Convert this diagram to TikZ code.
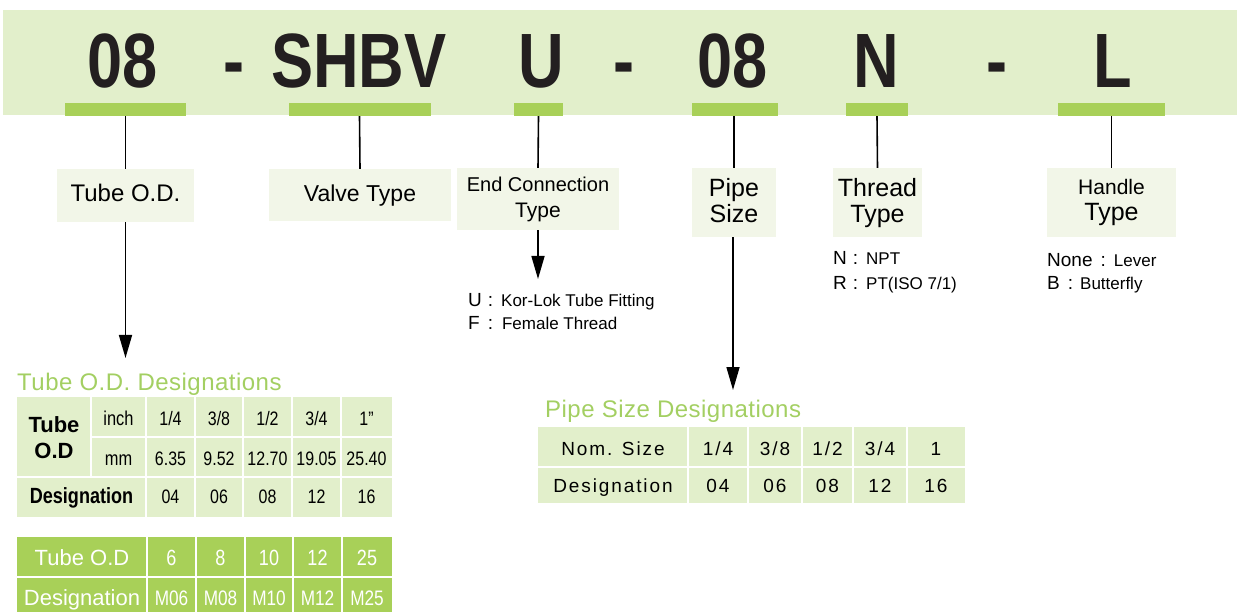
\documentclass[tikz,border=0pt]{standalone}
\usepackage{fontspec}
\setmainfont{Liberation Sans}
\newfontfamily\codefont[FakeStretch=0.82]{Liberation Sans}
\newfontfamily\tabfont[FakeStretch=0.82]{Liberation Sans}
\newfontfamily\pipefont[LetterSpace=10]{Liberation Sans}
\newfontfamily\titlefont[LetterSpace=2]{Liberation Sans}
\usetikzlibrary{arrows.meta}
\definecolor{band}{HTML}{E2EFCB}
\definecolor{barc}{HTML}{A8D058}
\definecolor{boxc}{HTML}{F2F6E8}
\definecolor{codec}{HTML}{231F20}
\definecolor{titlec}{HTML}{A3CF62}
\newcommand\myfs[1]{\fontsize{#1}{#1}\selectfont}
\tikzset{
  code/.style={anchor=base, inner sep=0pt, text=codec, font={\codefont\bfseries\myfs{77}}},
  barbox/.style={fill=barc, inner sep=0pt, minimum height=13pt},
  labbox/.style={fill=boxc, inner sep=0pt},
  lab/.style={anchor=base, inner sep=0pt},
  conn/.style={line width=1.6pt, black},
  arr/.style={conn, -{Triangle[length=23pt,width=13pt]}},
  grid/.style={white, line width=1.5pt},
  t1/.style={anchor=base, inner sep=0pt, font={\tabfont\myfs{19.5}}},
  t2/.style={anchor=base, inner sep=0pt, text=white},
  t3/.style={anchor=base, inner sep=0pt, font={\pipefont\myfs{19}}},
}
\begin{document}
\begin{tikzpicture}[x=1pt,y=-1pt]
\useasboundingbox (0,0) rectangle (1237,612);
% top band
\fill[band] (3,10) rectangle (1237,115);
\node[code] (c1) at (123,88) {08};
\node[code] (c2) at (234,88) {-};
\node[code] (c3) at (359,88) {SHBV};
\node[code] (c4) at (541,88) {U};
\node[code] (c5) at (624,88) {-};
\node[code] (c6) at (733,88) {08};
\node[code] (c7) at (876,88) {N};
\node[code] (c8) at (997,88) {-};
\node[code] (c9) at (1113,88) {L};
% bars
\node[barbox, minimum width=121pt] (b1) at (125.5,109.5) {};
\node[barbox, minimum width=142pt] (b2) at (359.5,109.5) {};
\node[barbox, minimum width=49pt]  (b3) at (538.5,109.5) {};
\node[barbox, minimum width=86pt]  (b4) at (735,109.5) {};
\node[barbox, minimum width=62pt]  (b5) at (877,109.5) {};
\node[barbox, minimum width=107pt] (b6) at (1111.5,109.5) {};
% label boxes
\node[labbox, minimum width=137pt, minimum height=53pt] (L1) at (125.5,195.5) {};
\node[labbox, minimum width=182pt, minimum height=52pt] (L2) at (360,195) {};
\node[labbox, minimum width=162pt, minimum height=62pt] (L3) at (538,199) {};
\node[labbox, minimum width=84pt, minimum height=69pt]  (L4) at (734,202.5) {};
\node[labbox, minimum width=89pt, minimum height=69pt]  (L5) at (877.5,202.5) {};
\node[labbox, minimum width=129pt, minimum height=69pt] (L6) at (1111.5,202.5) {};
% label texts
\node[lab, font=\myfs{24}] (x1) at (125.5,202) {Tube O.D.};
\node[lab, font=\myfs{23}] (x2) at (360,202) {Valve Type};
\node[lab, font=\myfs{20}] (x3a) at (538,192) {End Connection};
\node[lab, font=\myfs{21}] (x3b) at (538,218) {Type};
\node[lab, font=\myfs{25}] (x4a) at (734,197) {Pipe};
\node[lab, font=\myfs{25}] (x4b) at (734,223) {Size};
\node[lab, font=\myfs{25}] (x5a) at (877.5,197) {Thread};
\node[lab, font=\myfs{25}] (x5b) at (877.5,223) {Type};
\node[lab, font=\myfs{21}] (x6a) at (1111.5,195) {Handle};
\node[lab, font=\myfs{25}] (x6b) at (1111.5,221) {Type};
% connectors
\draw[conn] (b1.south) -- (L1.north);
\draw[conn] (b2.south) -- (L2.north);
\draw[conn] (b3.south) -- (L3.north);
\draw[conn] (b4.south -| L4.north) -- (L4.north);
\draw[conn] (b5.south) -- (L5.north);
\draw[conn] (b6.south) -- (L6.north);
\coordinate (a1) at (125.5,358);
\coordinate (a3) at (538,279);
\coordinate (a4) at (733,390);
\draw[arr] (L1.south) -- (a1);
\draw[arr] (L3.south) -- (a3);
\draw[arr] (L4.south -| a4) -- (a4);
% option lists
\node[lab, anchor=base west] (o1) at (468,307) {\myfs{19}U\hspace{6pt}:\hspace{8pt}\myfs{17}Kor-Lok Tube Fitting};
\node[lab, anchor=base west] (o2) at (468,330) {\myfs{19}F\hspace{8pt}:\hspace{9pt}\myfs{17}Female Thread};
\node[lab, anchor=base west] (o3) at (833,265) {\myfs{19}N\hspace{6pt}:\hspace{8pt}\myfs{17}NPT};
\node[lab, anchor=base west] (o4) at (833,290) {\myfs{19}R\hspace{6pt}:\hspace{8pt}\myfs{17}PT(ISO 7/1)};
\node[lab, anchor=base west] (o5) at (1047,267) {\myfs{19}None\hspace{8pt}:\hspace{8pt}\myfs{17}Lever};
\node[lab, anchor=base west] (o6) at (1047,290) {\myfs{19}B\hspace{8pt}:\hspace{7pt}\myfs{17}Butterfly};
% titles
\node[lab, anchor=base west, text=titlec, font={\titlefont\myfs{24}}] (tt1) at (17,390) {Tube O.D. Designations};
\node[lab, anchor=base west, text=titlec, font={\titlefont\myfs{24}}] (tt2) at (545,417) {Pipe Size Designations};
% table 1
\fill[band] (17,397) rectangle (392,517);
\draw[grid] (91,397) -- (91,477);
\draw[grid] (91,437) -- (392,437);
\draw[grid] (17,477) -- (392,477);
\foreach \xx in {146,195,243,292,341} \draw[grid] (\xx,397) -- (\xx,517);
\node[lab, font={\bfseries\myfs{22}}] (ta) at (54,432) {Tube};
\node[lab, font={\bfseries\myfs{22}}] (tb) at (54,458) {O.D};
\node[t1, font={\tabfont\myfs{20}}] (tc) at (118.5,425) {inch};
\node[t1, font={\tabfont\myfs{20}}] (td) at (118.5,465) {mm};
\node[lab, font={\tabfont\bfseries\myfs{22}}] (te) at (81.5,503) {Designation};
\node[t1] (r11) at (170.5,425) {1/4};
\node[t1] (r12) at (219,425) {3/8};
\node[t1] (r13) at (267.5,425) {1/2};
\node[t1] (r14) at (316.5,425) {3/4};
\node[t1] (r15) at (366.5,425) {1”};
\node[t1] (r21) at (170.5,465) {6.35};
\node[t1] (r22) at (219,465) {9.52};
\node[t1] (r23) at (267.5,465) {12.70};
\node[t1] (r24) at (316.5,465) {19.05};
\node[t1] (r25) at (366.5,465) {25.40};
\node[t1] (r31) at (170.5,503) {04};
\node[t1] (r32) at (219,503) {06};
\node[t1] (r33) at (267.5,503) {08};
\node[t1] (r34) at (316.5,503) {12};
\node[t1] (r35) at (366.5,503) {16};
% table 2
\fill[barc] (17,537) rectangle (392,617);
\draw[grid] (17,577) -- (392,577);
\foreach \xx in {147,196,245,293,342} \draw[grid] (\xx,537) -- (\xx,617);
\node[t2, font=\myfs{22}] (sa) at (82,565) {Tube O.D};
\node[t2, font=\myfs{22}] (sb) at (82,605) {Designation};
\node[t2, font={\tabfont\myfs{22}}] (s11) at (171.5,565) {6};
\node[t2, font={\tabfont\myfs{22}}] (s12) at (220.5,565) {8};
\node[t2, font={\tabfont\myfs{22}}] (s13) at (269,565) {10};
\node[t2, font={\tabfont\myfs{22}}] (s14) at (317.5,565) {12};
\node[t2, font={\tabfont\myfs{22}}] (s15) at (367,565) {25};
\node[t2, font={\tabfont\myfs{21}}] (s21) at (171.5,605) {M06};
\node[t2, font={\tabfont\myfs{21}}] (s22) at (220.5,605) {M08};
\node[t2, font={\tabfont\myfs{21}}] (s23) at (269,605) {M10};
\node[t2, font={\tabfont\myfs{21}}] (s24) at (317.5,605) {M12};
\node[t2, font={\tabfont\myfs{21}}] (s25) at (367,605) {M25};
% pipe table
\fill[band] (538,427) rectangle (965,503);
\draw[grid] (538,467) -- (965,467);
\foreach \xx in {688,748,802,853,907} \draw[grid] (\xx,427) -- (\xx,503);
\node[t3] (pa) at (613,455) {Nom. Size};
\node[t3] (pb) at (613,492) {Designation};
\node[t3] (p11) at (718,455) {1/4};
\node[t3] (p12) at (775,455) {3/8};
\node[t3] (p13) at (827.5,455) {1/2};
\node[t3] (p14) at (880,455) {3/4};
\node[t3] (p15) at (936,455) {1};
\node[t3] (p21) at (718,492) {04};
\node[t3] (p22) at (775,492) {06};
\node[t3] (p23) at (827.5,492) {08};
\node[t3] (p24) at (880,492) {12};
\node[t3] (p25) at (936,492) {16};
\end{tikzpicture}
\end{document}
